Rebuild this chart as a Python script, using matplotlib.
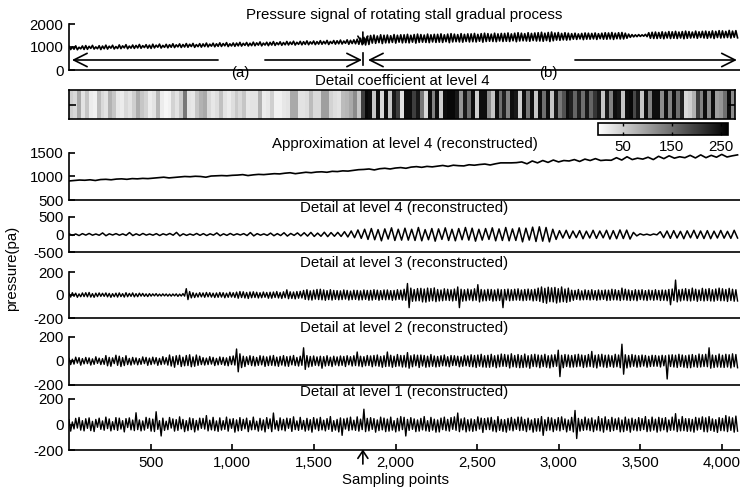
import numpy as np
import matplotlib
matplotlib.use('Agg')
import matplotlib.pyplot as plt

plt.rcParams['font.family'] = ['Liberation Sans', 'DejaVu Sans']
plt.rcParams['axes.unicode_minus'] = False
FS = 10.8

# ---------------- data ----------------
N_SAMPLES = 4096
X_MAX = 4110
STALL_ONSET = 1800
XTICKS = [500, 1000, 1500, 2000, 2500, 3000, 3500, 4000]
CB_TICKS = [50, 150, 250]

titles = ["Pressure signal of rotating stall gradual process",
          "Detail coefficient at level 4",
          "Approximation at level 4 (reconstructed)",
          "Detail at level 4 (reconstructed)",
          "Detail at level 3 (reconstructed)",
          "Detail at level 2 (reconstructed)",
          "Detail at level 1 (reconstructed)"]

signal = [
    1030, 890, 1010, 905, 1050, 880, 990, 920, 1045, 895,
    1060, 900, 1030, 940, 1070, 910, 1005, 925, 1055, 890,
    1040, 925, 1080, 910, 1035, 950, 1075, 915, 1020, 935,
    1090, 930, 1050, 960, 1100, 925, 1040, 950, 1085, 940,
    1070, 960, 1110, 945, 1060, 975, 1100, 950, 1080, 940,
    1120, 960, 1080, 990, 1125, 955, 1070, 985, 1115, 965,
    1100, 990, 1140, 975, 1095, 1005, 1135, 980, 1110, 1000,
    1150, 990, 1120, 1020, 1155, 985, 1105, 1015, 1145, 995,
    1135, 1020, 1170, 1005, 1125, 1035, 1165, 1010, 1140, 1030,
    1180, 1025, 1150, 1050, 1190, 1020, 1140, 1045, 1175, 1030,
    1170, 1050, 1200, 1040, 1160, 1070, 1195, 1045, 1165, 1060,
    1210, 1055, 1180, 1080, 1220, 1050, 1170, 1085, 1205, 1060,
    1200, 1085, 1235, 1070, 1190, 1100, 1225, 1075, 1195, 1095,
    1240, 1090, 1215, 1110, 1250, 1085, 1205, 1115, 1245, 1095,
    1230, 1115, 1265, 1100, 1225, 1130, 1260, 1105, 1235, 1125,
    1275, 1120, 1245, 1140, 1285, 1110, 1240, 1150, 1280, 1125,
    1270, 1140, 1300, 1130, 1260, 1160, 1310, 1120, 1290, 1150,
    1310, 1140, 1340, 1120, 1380, 1100, 1420, 1090, 1460, 1110,
    1500, 1170, 1520, 1160, 1480, 1190, 1530, 1150, 1510, 1180,
    1520, 1180, 1490, 1200, 1540, 1170, 1510, 1210, 1530, 1180,
    1530, 1190, 1550, 1180, 1510, 1210, 1540, 1170, 1560, 1200,
    1540, 1210, 1520, 1200, 1560, 1190, 1530, 1220, 1550, 1200,
    1550, 1210, 1570, 1200, 1530, 1230, 1560, 1190, 1580, 1220,
    1560, 1230, 1540, 1220, 1580, 1210, 1550, 1240, 1570, 1220,
    1570, 1230, 1590, 1220, 1550, 1250, 1580, 1210, 1600, 1240,
    1580, 1250, 1560, 1240, 1600, 1230, 1570, 1260, 1590, 1240,
    1590, 1250, 1610, 1240, 1570, 1270, 1600, 1230, 1620, 1260,
    1600, 1270, 1580, 1260, 1620, 1250, 1590, 1280, 1610, 1260,
    1620, 1260, 1640, 1250, 1600, 1280, 1630, 1240, 1650, 1270,
    1610, 1300, 1630, 1290, 1590, 1310, 1620, 1300, 1600, 1310,
    1580, 1340, 1600, 1330, 1570, 1350, 1590, 1320, 1610, 1340,
    1600, 1340, 1590, 1350, 1610, 1330, 1580, 1360, 1600, 1340,
    1620, 1340, 1610, 1350, 1630, 1330, 1600, 1360, 1620, 1350,
    1630, 1350, 1600, 1380, 1560, 1420, 1540, 1440, 1530, 1450,
    1540, 1460, 1530, 1470, 1550, 1450, 1620, 1380, 1640, 1370,
    1650, 1370, 1630, 1380, 1660, 1360, 1640, 1390, 1670, 1370,
    1660, 1380, 1680, 1370, 1650, 1390, 1670, 1360, 1690, 1380,
    1670, 1390, 1650, 1400, 1690, 1380, 1660, 1410, 1680, 1390,
    1690, 1380, 1670, 1400, 1700, 1370, 1680, 1410, 1710, 1390,
    1700, 1400, 1680, 1410, 1720, 1390, 1690, 1420, 1710, 1400]

coef_level4 = [
    50, 40, 90, 30, 60, 20, 15, 70, 40, 30, 80, 60, 25, 20, 40, 30, 50, 85, 60, 45,
    20, 30, 75, 20, 10, 15, 45, 30, 55, 140, 30, 25, 60, 80, 90, 40, 25, 35, 65, 30,
    20, 35, 55, 40, 60, 25, 30, 30, 80, 20, 25, 50, 15, 15, 25, 30, 90, 90, 30, 30,
    35, 70, 40, 40, 100, 100, 45, 35, 30, 70, 75, 90, 120, 60, 200, 255, 250, 60, 250, 40,
    250, 60, 240, 200, 30, 250, 250, 200, 240, 140, 40, 250, 130, 250, 50, 250, 255, 255, 240, 110,
    240, 150, 250, 50, 250, 250, 120, 60, 250, 150, 230, 130, 250, 240, 50, 250, 140, 250, 60, 250,
    150, 250, 60, 240, 140, 180, 250, 230, 160, 230, 150, 240, 160, 210, 240, 60, 240, 130, 250, 240,
    60, 250, 255, 190, 240, 60, 250, 130, 250, 250, 120, 250, 130, 250, 150, 230, 40, 50, 80, 200,
    130, 250, 120, 250, 100, 110, 150, 250, 120]

approx_level4 = [
    905, 915, 925, 920, 930, 915, 935, 940, 930, 945,
    950, 940, 955, 950, 960, 955, 965, 975, 985, 970,
    980, 990, 1000, 995, 1005, 1000, 985, 1010, 1015, 1020,
    1015, 1025, 1030, 1040, 1020, 1035, 1045, 1040, 1050, 1060,
    1055, 1070, 1080, 1060, 1075, 1090, 1080, 1095, 1100, 1090,
    1110, 1105, 1120, 1115, 1130, 1145, 1150, 1160, 1140, 1165,
    1175, 1160, 1180, 1190, 1175, 1200, 1210, 1195, 1215, 1205,
    1220, 1235, 1215, 1240, 1230, 1225, 1250, 1240, 1255, 1265,
    1245, 1270, 1290, 1290, 1290, 1295, 1310, 1270, 1330, 1290,
    1340, 1300, 1350, 1310, 1340, 1330, 1360, 1320, 1370, 1340,
    1380, 1340, 1350, 1345, 1400, 1350, 1420, 1360, 1390, 1370,
    1410, 1360, 1430, 1380, 1440, 1390, 1420, 1400, 1450, 1395,
    1460, 1400, 1450, 1410, 1470, 1415, 1440, 1460]

detail_level4 = [
    20, -25, 15, -30, 25, -18, 30, -20, 15, -22,
    45, -35, 20, -15, 25, -20, 18, -25, 55, -30,
    20, -25, 30, -18, 15, -20, 25, -30, 20, -15,
    30, -20, 60, -40, 20, -25, 15, -20, 30, -25,
    25, -30, 20, -18, 45, -35, 20, -25, 30, -20,
    20, -15, 25, -30, 55, -40, 25, -20, 18, -25,
    40, -35, 25, -30, 50, -45, 30, -25, 45, -40,
    50, -45, 60, -55, 40, -50, 65, -60, 55, -50,
    60, -55, 80, -70, 100, -90, 130, -110, 150, -140,
    170, -150, 140, -180, 160, -130, 190, -170, 150, -160,
    180, -160, 150, -170, 200, -180, 140, -150, 170, -190,
    160, -140, 190, -170, 150, -180, 170, -150, 200, -160,
    180, -190, 150, -160, 170, -140, 190, -180, 160, -170,
    200, -180, 160, -170, 190, -210, 180, -160, 210, -200,
    220, -190, 200, -210, 150, -140, 110, -100, 120, -110,
    100, -90, 110, -120, 95, -100, 120, -110, 100, -95,
    120, -130, 110, -120, 130, -115, 125, -130, 60, -40,
    20, -15, 10, -20, 15, -10, 80, -90, 100, -110,
    110, -100, 90, -120, 105, -95, 120, -110, 100, -115,
    110, -120, 95, -100, 115, -105, 90, -110, 120, -100]

detail_level3 = [
    14, -18, 20, -12, 16, -20, 10, -15, 18, -14,
    20, -16, 22, -18, 12, -20, 16, -14, 18, -12,
    15, -12, 18, -16, 14, -20, 12, -15, 16, -18,
    18, -14, 12, -18, 20, -15, 14, -12, 18, -16,
    12, -15, 16, -10, 14, -12, 10, -14, 12, -10,
    10, -8, 12, -10, 8, -9, 10, -8, 9, -10,
    8, -10, 9, -8, 10, -12, 8, -9, 12, -10,
    55, -40, 30, -25, 20, -22, 15, -18, 20, -16,
    18, -20, 22, -16, 20, -18, 16, -22, 18, -20,
    22, -18, 20, -24, 16, -20, 24, -18, 20, -22,
    25, -28, 30, -22, 28, -26, 22, -30, 26, -24,
    28, -22, 24, -26, 20, -24, 26, -20, 22, -28,
    24, -28, 26, -22, 30, -26, 22, -30, 28, -24,
    45, -32, 28, -30, 26, -34, 30, -28, 32, -26,
    40, -38, 46, -42, 36, -44, 42, -36, 48, -40,
    50, -42, 44, -46, 38, -40, 46, -44, 40, -38,
    38, -42, 36, -40, 44, -36, 40, -44, 34, -40,
    42, -38, 40, -44, 36, -42, 44, -38, 40, -46,
    40, -44, 46, -38, 42, -46, 38, -40, 44, -42,
    44, -40, 38, -46, 40, -42, 46, -38, 42, -44,
    50, -46, 100, -110, 60, -55, 48, -52, 56, -50,
    58, -60, 52, -62, 60, -54, 56, -50, 62, -58,
    48, -52, 44, -50, 54, -46, 50, -48, 46, -52,
    52, -48, 70, -110, 50, -54, 46, -50, 52, -44,
    46, -50, 54, -46, 90, -60, 48, -52, 44, -50,
    50, -46, 48, -54, 44, -50, 52, -48, 46, -110,
    48, -44, 52, -50, 46, -48, 50, -44, 54, -46,
    44, -50, 48, -46, 52, -44, 46, -52, 50, -48,
    60, -55, 70, -65, 58, -72, 68, -58, 62, -60,
    66, -70, 55, -62, 70, -58, 52, -64, 60, -56,
    42, -46, 40, -38, 48, -44, 36, -42, 45, -40,
    40, -44, 46, -40, 38, -46, 44, -42, 40, -38,
    44, -48, 42, -46, 50, -42, 46, -44, 40, -48,
    60, -42, 50, -46, 44, -48, 38, -44, 46, -50,
    42, -40, 46, -44, 38, -48, 44, -42, 40, -46,
    46, -42, 40, -48, 44, -46, 42, -50, 48, -85,
    52, -48, 130, -60, 46, -52, 50, -45, 55, -50,
    48, -52, 60, -46, 50, -55, 44, -48, 58, -52,
    50, -48, 56, -52, 46, -54, 52, -46, 60, -50,
    54, -50, 48, -56, 58, -48, 50, -54, 46, -52]

detail_level2 = [
    22, -30, 15, -26, 32, -18, 28, -35, 20, -24,
    30, -22, 26, -34, 18, -28, 35, -20, 24, -30,
    20, -28, 45, -40, 30, -44, 26, -22, 48, -36,
    40, -46, 28, -38, 44, -30, 22, -34, 30, -26,
    26, -32, 20, -28, 34, -22, 30, -36, 24, -30,
    32, -24, 28, -36, 22, -30, 36, -26, 28, -34,
    50, -42, 36, -52, 44, -30, 48, -46, 32, -40,
    46, -38, 52, -48, 34, -44, 50, -36, 40, -30,
    28, -34, 24, -30, 36, -26, 30, -38, 22, -32,
    34, -28, 30, -36, 26, -40, 38, -30, 42, -34,
    100, -90, 60, -55, 40, -46, 35, -30, 44, -38,
    38, -42, 30, -36, 44, -32, 40, -45, 34, -38,
    42, -36, 46, -40, 32, -44, 38, -34, 45, -42,
    36, -44, 40, -32, 46, -38, 30, -42, 40, -36,
    110, -70, 45, -50, 38, -44, 42, -36, 34, -40,
    40, -60, 36, -42, 44, -38, 32, -46, 40, -34,
    34, -40, 42, -36, 38, -46, 44, -32, 36, -42,
    44, -38, 75, -42, 40, -48, 36, -40, 46, -38,
    42, -48, 46, -40, 50, -44, 38, -52, 44, -46,
    75, -44, 48, -52, 40, -46, 54, -42, 46, -50,
    46, -50, 70, -60, 44, -48, 52, -40, 48, -54,
    50, -42, 46, -52, 40, -48, 54, -44, 42, -50,
    38, -46, 44, -40, 50, -42, 36, -48, 46, -38,
    44, -38, 40, -48, 36, -44, 48, -40, 42, -46,
    52, -48, 46, -54, 50, -44, 56, -50, 44, -52,
    48, -52, 56, -46, 44, -56, 50, -48, 58, -44,
    54, -46, 50, -58, 60, -48, 46, -52, 54, -56,
    46, -54, 58, -50, 44, -60, 52, -46, 56, -48,
    50, -56, 48, -46, 56, -52, 44, -58, 50, -48,
    52, -44, 90, -130, 48, -56, 54, -46, 50, -52,
    46, -50, 52, -48, 56, -44, 50, -54, 46, -50,
    54, -46, 80, -52, 48, -58, 52, -44, 56, -50,
    48, -54, 50, -46, 44, -52, 56, -48, 50, -56,
    140, -110, 52, -58, 46, -50, 54, -44, 48, -52,
    44, -48, 50, -42, 46, -52, 40, -46, 48, -44,
    46, -44, 42, -50, 48, -40, 44, -150, 50, -46,
    52, -50, 48, -54, 56, -46, 50, -52, 44, -56,
    50, -56, 54, -48, 46, -52, 58, -50, 52, -46,
    56, -48, 110, -60, 50, -54, 46, -50, 58, -52,
    48, -54, 56, -50, 52, -58, 60, -48, 54, -56]

detail_level1 = [
    38, -52, 20, -35, 48, -28, 55, -44, 30, -50,
    45, -30, 52, -48, 25, -55, 40, -22, 50, -38,
    28, -45, 58, -32, 44, -50, 22, -40, 54, -46,
    50, -36, 30, -58, 46, -24, 52, -42, 35, -48,
    92, -40, 36, -50, 28, -44, 56, -30, 48, -52,
    42, -55, 100, -38, 30, -90, 50, -46, 26, -40,
    55, -28, 44, -52, 38, -46, 60, -34, 40, -56,
    30, -48, 52, -40, 46, -58, 32, -44, 50, -30,
    48, -36, 70, -50, 34, -42, 56, -48, 28, -54,
    52, -44, 30, -38, 58, -52, 42, -30, 46, -60,
    36, -50, 54, -46, 40, -34, 50, -56, 30, -42,
    58, -40, 26, -52, 48, -44, 36, -58, 54, -32,
    44, -56, 90, -36, 30, -48, 52, -42, 40, -50,
    50, -30, 46, -54, 60, -40, 28, -46, 56, -38,
    32, -52, 48, -44, 38, -60, 54, -36, 44, -48,
    56, -42, 34, -50, 46, -38, 62, -54, 30, -44,
    40, -58, 52, -85, 44, -36, 50, -48, 58, -42,
    34, -46, 60, -52, 42, -40, 120, -56, 48, -50,
    54, -38, 46, -60, 36, -48, 58, -42, 50, -56,
    42, -52, 58, -44, 30, -58, 48, -50, 62, -40,
    56, -90, 40, -46, 54, -38, 44, -56, 36, -52,
    48, -42, 62, -50, 30, -54, 56, -44, 42, -60,
    36, -58, 50, -40, 58, -48, 40, -52, 54, -38,
    60, -46, 90, -56, 44, -42, 52, -58, 38, -50,
    44, -54, 38, -48, 60, -36, 50, -62, 46, -40,
    52, -40, 56, -52, 34, -58, 62, -46, 40, -54,
    38, -60, 48, -44, 56, -50, 42, -38, 58, -48,
    58, -46, 40, -56, 50, -42, 36, -60, 46, -52,
    46, -52, 62, -85, 38, -48, 56, -44, 52, -56,
    40, -44, 54, -50, 60, -40, 44, -58, 36, -46,
    56, -58, 110, -110, 48, -52, 40, -46, 58, -42,
    44, -48, 52, -56, 36, -44, 62, -50, 46, -60,
    60, -42, 38, -54, 56, -48, 44, -40, 52, -58,
    36, -56, 58, -46, 42, -60, 50, -44, 40, -50,
    54, -48, 46, -40, 62, -56, 38, -52, 58, -44,
    42, -60, 56, -50, 48, -42, 54, -58, 36, -46,
    58, -44, 85, -56, 40, -50, 62, -48, 46, -54,
    46, -52, 40, -60, 56, -44, 50, -38, 60, -56,
    52, -58, 62, -46, 44, -54, 38, -62, 54, -48,
    48, -50, 70, -56, 60, -46, 52, -60, 66, -52]

# ---------------- layout ----------------
W, H = 740, 487
fig = plt.figure(figsize=(W / 100, H / 100), dpi=100)


def px_axes(x0, y0, x1, y1):
    return fig.add_axes([x0 / W, 1 - y1 / H, (x1 - x0) / W, (y1 - y0) / H])


def style(ax, ylim, yticks):
    ax.set_xlim(0, X_MAX)
    ax.set_ylim(*ylim)
    ax.set_yticks(yticks)
    ax.set_yticklabels([str(v) for v in yticks])
    for s in ['top', 'right']:
        ax.spines[s].set_visible(False)
    for s in ['left', 'bottom']:
        ax.spines[s].set_linewidth(1.2)
    ax.tick_params(axis='y', direction='in', length=4, width=1.2,
                   labelsize=FS, pad=4)
    ax.tick_params(axis='x', bottom=False, labelbottom=False)
    ax.patch.set_alpha(0)


def xs(arr):
    return np.linspace(0, N_SAMPLES - 1, len(arr))


LX0, LX1 = 69, 740
DLW = 1.0

# panel 1: raw signal
ax1 = px_axes(LX0, 24, LX1, 70)
style(ax1, (0, 2000), [0, 1000, 2000])
ax1.plot(xs(signal), signal, color='k', lw=1.2)
ax1.set_title(titles[0], fontsize=FS, pad=3.5)
big = dict(arrowstyle='->,head_length=0.8,head_width=0.4', lw=1.2,
           color='k', shrinkA=0, shrinkB=0, mutation_scale=12)
ARROW_Y = 435
ax1.annotate('', xy=(18, ARROW_Y), xytext=(913, ARROW_Y), arrowprops=big)
ax1.annotate('', xy=(1795, ARROW_Y), xytext=(1200, ARROW_Y), arrowprops=big)
ax1.annotate('', xy=(1831, ARROW_Y), xytext=(2824, ARROW_Y), arrowprops=big)
ax1.annotate('', xy=(4091, ARROW_Y), xytext=(3099, ARROW_Y), arrowprops=big)
ax1.text(1047, -110, '(a)', ha='center', va='center', fontsize=FS, clip_on=False)
ax1.text(2934, -110, '(b)', ha='center', va='center', fontsize=FS, clip_on=False)
ax1.plot([STALL_ONSET, STALL_ONSET], [220, 740], color='k', lw=1.2)
ax1.annotate('', xy=(STALL_ONSET, 1080), xytext=(STALL_ONSET, 1650),
             arrowprops=dict(arrowstyle='->,head_length=0.45,head_width=0.3',
                             lw=1.2, color='k', shrinkA=0, shrinkB=0,
                             mutation_scale=12), annotation_clip=False)

# panel 2: coefficient strip
ax2 = px_axes(LX0, 90, 735, 119)
im = ax2.imshow(np.array(coef_level4)[None, :], aspect='auto', cmap='gray_r',
                vmin=0, vmax=265, extent=[0, len(coef_level4), 0, 1],
                interpolation='nearest')
ax2.set_xticks([])
ax2.set_yticks([0.5])
ax2.set_yticklabels([])
ax2.tick_params(axis='y', direction='in', length=5, width=1.2, right=True)
for s in ax2.spines.values():
    s.set_linewidth(1.2)
ax2.set_title(titles[1], fontsize=FS, pad=3.5)

cax = px_axes(598, 123, 728, 135)
cb = fig.colorbar(im, cax=cax, orientation='horizontal', ticks=CB_TICKS)
cb.ax.tick_params(labelsize=FS, direction='in', length=2, width=1, top=True, pad=3.5)
cb.outline.set_linewidth(1.2)

# panel 3: approximation
ax3 = px_axes(LX0, 153, LX1, 200)
style(ax3, (500, 1500), [500, 1000, 1500])
ax3.plot(xs(approx_level4), approx_level4, color='k', lw=1.2)
ax3.set_title(titles[2], fontsize=FS, pad=3.5)

# panel 4: detail level 4
ax4 = px_axes(LX0, 217, LX1, 252)
style(ax4, (-500, 500), [-500, 0, 500])
ax4.plot(xs(detail_level4), detail_level4, color='k', lw=1.1)
ax4.set_title(titles[3], fontsize=FS, pad=3.5)

# panel 5: detail level 3
ax5 = px_axes(LX0, 272, LX1, 318)
style(ax5, (-200, 200), [-200, 0, 200])
ax5.plot(xs(detail_level3), detail_level3, color='k', lw=DLW)
ax5.set_title(titles[4], fontsize=FS, pad=3.5)

# panel 6: detail level 2
ax6 = px_axes(LX0, 337, LX1, 385)
style(ax6, (-200, 200), [-200, 0, 200])
ax6.plot(xs(detail_level2), detail_level2, color='k', lw=DLW)
ax6.set_title(titles[5], fontsize=FS, pad=3.5)

# panel 7: detail level 1
ax7 = px_axes(LX0, 399, LX1, 450)
style(ax7, (-200, 200), [-200, 0, 200])
ax7.plot(xs(detail_level1), detail_level1, color='k', lw=DLW)
ax7.set_title(titles[6], fontsize=FS, pad=-4)
ax7.set_xticks(XTICKS)
ax7.set_xticklabels([f'{v:,}' for v in XTICKS])
ax7.tick_params(axis='x', bottom=True, labelbottom=True, direction='in',
                length=4, width=1.2, labelsize=FS, pad=4)
ax7.annotate('', xy=(STALL_ONSET, -195), xytext=(STALL_ONSET, -310),
             arrowprops=dict(arrowstyle='->,head_length=0.45,head_width=0.3',
                             lw=1.2, color='k', shrinkA=0, shrinkB=0,
                             mutation_scale=12), annotation_clip=False)

fig.text(12 / W, 1 - 268 / H, 'pressure(pa)', rotation=90, ha='center',
         va='center', fontsize=FS)
fig.text(396 / W, 1 - 480 / H, 'Sampling points', ha='center', va='center',
         fontsize=FS)

fig.savefig('out.png', dpi=100)
